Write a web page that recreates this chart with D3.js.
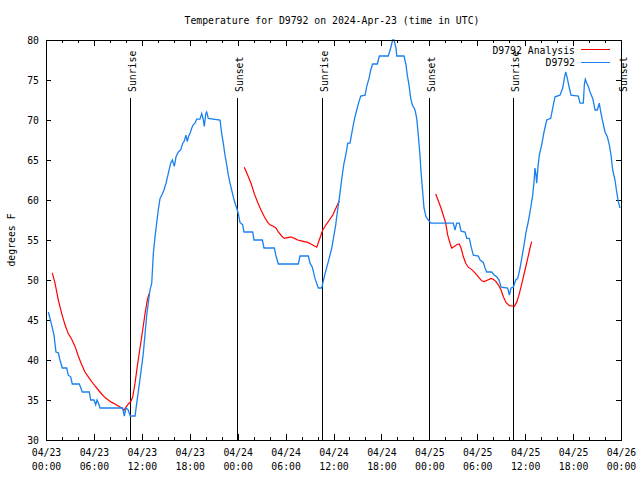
<!DOCTYPE html>
<html>
<head>
<meta charset="utf-8">
<script src="https://cdn.jsdelivr.net/npm/d3@7"></script>
<style>
  body { margin: 0; background: #fff; }
  svg { display: block; }
  text { font-family: "DejaVu Sans Mono", monospace; font-size: 9.8px; fill: #000; }
</style>
</head>
<body>
<svg id="chart" width="640" height="480"></svg>
<script>
// ---------- DATA (hours since 2024-04-23 00:00 UTC, temperature in °F) ----------
const titleText = "Temperature for D9792 on 2024-Apr-23 (time in UTC)";
const yLabel = "degrees F";
const seriesNames = ["D9792 Analysis", "D9792"];
const yTicks = [30, 35, 40, 45, 50, 55, 60, 65, 70, 75, 80];

// Observations (D9792)
const obsHours = [0.29,0.50,0.75,1.00,1.25,1.54,1.75,2.04,2.59,2.79,3.09,3.29,4.17,4.55,5.42,5.60,6.01,6.22,6.39,6.64,6.76,9.60,9.80,10.02,10.27,10.56,11.15,11.36,11.77,12.18,12.61,13.02,13.24,13.44,13.65,13.86,14.06,14.28,14.49,14.78,15.03,15.31,15.61,15.82,16.07,16.28,16.57,16.87,17.12,17.28,17.53,17.69,17.87,18.03,18.25,18.44,18.66,18.87,19.28,19.50,19.70,19.82,20.00,20.12,20.32,21.79,22.00,22.20,22.41,22.63,22.83,23.04,23.25,23.45,23.67,23.88,24.08,24.29,24.63,24.79,25.88,26.05,27.09,27.30,28.59,28.80,29.09,31.59,31.81,32.85,33.06,33.35,33.68,34.10,34.52,34.94,35.35,35.78,36.06,36.28,36.48,36.73,36.94,37.15,37.32,37.57,37.78,38.07,38.28,38.48,38.69,38.91,39.19,39.41,39.95,40.16,40.45,40.66,40.91,41.49,41.74,42.86,43.16,43.41,43.58,43.83,43.92,44.83,45.08,45.24,45.45,45.67,45.87,46.21,46.42,46.62,46.83,46.96,47.17,47.33,47.58,47.87,48.21,51.00,51.21,51.43,51.75,51.97,52.47,52.68,53.01,53.22,53.51,54.14,54.35,54.76,54.97,55.19,55.81,56.14,56.44,56.73,56.98,57.81,58.02,58.23,58.52,58.82,59.07,59.36,59.57,59.86,60.11,60.39,60.69,60.94,61.11,61.23,61.36,61.44,61.61,61.77,62.07,62.36,62.70,63.20,63.45,63.74,64.36,64.70,64.90,65.08,65.28,65.53,65.74,66.66,66.87,67.28,67.41,67.53,67.71,67.91,68.12,68.46,68.75,69.03,69.28,69.46,69.71,70.00,70.29,70.54,70.75,70.96,71.25,71.46,71.66,71.88];
const obsTemps = [46.0,45.2,44.2,43.1,41.0,40.9,40.0,39.0,39.0,38.1,37.9,37.0,37.0,36.0,36.0,35.0,35.0,34.4,35.0,34.4,34.0,34.0,33.0,34.0,33.8,33.0,33.0,34.6,37.6,40.8,45.6,48.75,49.6,53.3,55.4,57.1,58.75,60.2,60.6,61.25,62.1,63.3,64.6,65.0,64.2,65.4,66.0,66.25,67.1,67.3,68.1,67.3,68.0,68.3,69.0,69.4,69.6,70.1,70.1,70.8,70.0,69.2,70.8,71.0,70.2,70.0,68.3,67.1,65.6,64.4,63.1,62.1,61.25,60.4,59.6,59.0,58.3,57.2,56.9,56.0,56.0,55.0,55.0,54.0,54.0,53.0,52.0,52.0,53.0,53.0,52.1,51.6,50.2,49.0,49.0,50.8,52.3,54.0,55.6,56.9,58.5,60.2,61.9,63.5,64.6,65.8,67.1,67.1,68.3,69.4,70.4,71.25,72.3,73.0,73.1,74.2,75.2,76.25,77.0,77.0,78.0,78.0,79.0,80.0,80.0,79.0,78.0,78.0,76.9,75.6,74.4,72.7,71.9,71.25,70.2,68.1,65.6,63.5,61.0,59.0,57.9,57.5,57.1,57.1,56.25,57.1,57.1,56.1,56.0,55.2,55.2,54.2,53.1,53.0,52.5,52.2,51.5,51.0,51.0,50.6,50.4,50.0,49.1,49.0,48.1,49.0,49.1,50.0,50.2,51.5,52.7,54.4,56.0,57.3,59.0,60.6,62.3,64.0,63.1,62.1,64.2,65.6,66.9,68.5,70.0,70.2,71.5,72.9,73.1,74.0,75.2,76.0,75.2,74.0,73.1,73.0,72.1,72.1,74.4,75.1,74.6,74.2,73.5,72.7,71.25,71.25,72.1,71.0,69.8,68.5,67.9,66.9,65.6,63.75,62.5,61.0,59.8,59.0];

// Analysis (D9792 Analysis); null marks a gap
const anaHours = [0.79,1.13,1.54,1.97,2.38,2.79,3.22,3.63,4.04,4.47,4.88,5.30,5.72,6.14,6.55,6.97,7.39,7.80,8.23,8.64,9.05,9.48,9.77,10.02,10.31,10.61,10.86,11.15,11.43,11.77,12.11,12.40,12.69,12.90,
  18.0,
  24.83,25.26,25.67,26.08,26.51,26.92,27.34,27.76,28.05,28.39,28.80,29.09,29.51,29.84,30.27,30.68,31.09,31.52,31.93,32.34,32.77,33.18,33.60,33.90,34.22,34.65,35.06,35.48,35.90,36.31,36.73,
  42.0,
  48.80,49.12,49.46,49.75,50.05,50.30,50.59,50.80,51.13,51.43,51.75,51.97,52.26,52.56,52.88,53.31,53.72,54.14,54.56,54.89,55.31,55.72,56.01,56.35,56.64,56.98,57.27,57.60,58.02,58.39,58.64,58.94,59.27,59.64,59.98,60.32,60.61,60.82];
const anaTemps = [50.9,49.6,47.5,45.8,44.4,43.3,42.6,41.7,40.5,39.4,38.5,37.9,37.3,36.75,36.25,35.75,35.3,35.0,34.7,34.5,34.25,34.0,33.7,34.1,34.5,34.8,35.4,37.1,39.2,41.5,43.75,45.8,47.5,48.3,
  null,
  64.1,63.1,62.1,60.8,59.7,58.75,57.9,57.2,56.9,56.75,56.5,56.0,55.5,55.2,55.3,55.4,55.2,55.0,54.9,54.8,54.7,54.5,54.25,54.1,55.0,56.25,56.9,57.5,58.1,59.0,59.9,
  null,
  60.75,59.9,59.0,58.1,57.1,55.6,54.6,54.0,54.2,54.4,54.5,54.0,52.9,52.1,51.6,51.3,50.9,50.4,49.9,49.8,50.0,50.2,50.1,49.8,49.4,48.75,47.9,47.2,46.8,46.75,46.7,47.2,48.3,49.8,51.25,52.7,54.0,54.8];

// Sun events
const sunHours = [10.57, 23.97, 34.58, 48.0, 58.53, 72.0];
const sunLabels = ["Sunrise", "Sunset", "Sunrise", "Sunset", "Sunrise", "Sunset"];

// ---------- CHART ----------
const start = Date.UTC(2024, 3, 23, 0, 0);
const end = Date.UTC(2024, 3, 26, 0, 0);
const toDate = h => new Date(start + h * 3600e3);

const margin = { left: 46, right: 621, top: 40, bottom: 440 };
const svg = d3.select("#chart");

const x = d3.scaleUtc().domain([new Date(start), new Date(end)]).range([margin.left, margin.right]);
const y = d3.scaleLinear().domain([30, 80]).range([margin.bottom, margin.top]);

const blue = "#1a80f0";
const red = "#ff0000";

// Sun lines
const sun = svg.append("g");
sunHours.forEach((h, i) => {
  const sx = Math.round(x(toDate(h))) + 0.5;
  sun.append("line").attr("x1", sx).attr("x2", sx).attr("y1", 98).attr("y2", margin.bottom)
    .attr("stroke", "#000").attr("stroke-width", 1);
  sun.append("text")
    .attr("transform", `translate(${x(toDate(h)) + 2},92) rotate(-90)`)
    .attr("text-anchor", "start")
    .attr("dominant-baseline", "central")
    .text(sunLabels[i]);
});

// Axes
const fmtDate = d3.utcFormat("%m/%d");
const fmtTime = d3.utcFormat("%H:%M");

const xMinorBottom = d3.axisBottom(x).ticks(d3.utcHour.every(2)).tickSize(-3).tickFormat("");
const xMinorTop = d3.axisTop(x).ticks(d3.utcHour.every(2)).tickSize(-3).tickFormat("");
const xMajorBottom = d3.axisBottom(x).ticks(d3.utcHour.every(6)).tickSize(-6).tickPadding(7).tickFormat("");
const xMajorTop = d3.axisTop(x).ticks(d3.utcHour.every(6)).tickSize(-6).tickFormat("");

function styleAxis(g) {
  g.select(".domain").remove();
  g.selectAll("line").attr("stroke", "#000").attr("shape-rendering", "crispEdges");
  g.selectAll("text").attr("font-family", null).attr("font-size", null);
}

svg.append("g").attr("transform", `translate(0,${margin.bottom})`).call(xMinorBottom).call(styleAxis);
svg.append("g").attr("transform", `translate(0,${margin.top})`).call(xMinorTop).call(styleAxis);
const xb = svg.append("g").attr("transform", `translate(0,${margin.bottom})`).call(xMajorBottom).call(styleAxis);
svg.append("g").attr("transform", `translate(0,${margin.top})`).call(xMajorTop).call(styleAxis);

xb.selectAll(".tick text").each(function(d) {
  const t = d3.select(this);
  t.text(null).attr("y", 0).attr("dy", null);
  t.append("tspan").attr("x", 0).attr("y", 16).text(fmtDate(d));
  t.append("tspan").attr("x", 0).attr("y", 30).text(fmtTime(d));
});

const yLeft = d3.axisLeft(y).tickValues(yTicks).tickSize(-5).tickPadding(7).tickFormat(d3.format("d"));
const yRight = d3.axisRight(y).tickValues(yTicks).tickSize(-5).tickFormat("");
svg.append("g").attr("transform", `translate(${margin.left},0)`).call(yLeft).call(styleAxis)
  .selectAll("text").attr("dy", "0.35em");
svg.append("g").attr("transform", `translate(${margin.right},0)`).call(yRight).call(styleAxis);

// Series lines
const line = d3.line()
  .defined(d => d[1] !== null)
  .x(d => x(toDate(d[0])))
  .y(d => y(d[1]));

const obsData = obsHours.map((h, i) => [h, obsTemps[i]]);
const anaData = anaHours.map((h, i) => [h, anaTemps[i]]);

svg.append("path").datum(anaData).attr("d", line)
  .attr("fill", "none").attr("stroke", red).attr("stroke-width", 1.2);
svg.append("path").datum(obsData).attr("d", line)
  .attr("fill", "none").attr("stroke", blue).attr("stroke-width", 1.3);

// Border
svg.append("rect")
  .attr("x", margin.left + 0.5).attr("y", margin.top + 0.5)
  .attr("width", margin.right - margin.left).attr("height", margin.bottom - margin.top)
  .attr("fill", "none").attr("stroke", "#000").attr("stroke-width", 1)
  .attr("shape-rendering", "crispEdges");

// Title
svg.append("text").attr("x", 332).attr("y", 20).attr("text-anchor", "middle")
  .attr("dominant-baseline", "central").text(titleText);

// Y label
svg.append("text").attr("transform", "translate(11,240) rotate(-90)")
  .attr("text-anchor", "middle").attr("dominant-baseline", "central").text(yLabel);

// Legend
const legColors = [red, blue];
const legY = [50, 62.5];
seriesNames.forEach((n, i) => {
  svg.append("text").attr("x", 575).attr("y", legY[i]).attr("text-anchor", "end")
    .attr("dominant-baseline", "central").text(n);
  svg.append("line").attr("x1", 581).attr("x2", 610)
    .attr("y1", Math.round(legY[i]) - 0.5).attr("y2", Math.round(legY[i]) - 0.5)
    .attr("stroke", legColors[i]).attr("stroke-width", 1);
});
</script>
</body>
</html>
